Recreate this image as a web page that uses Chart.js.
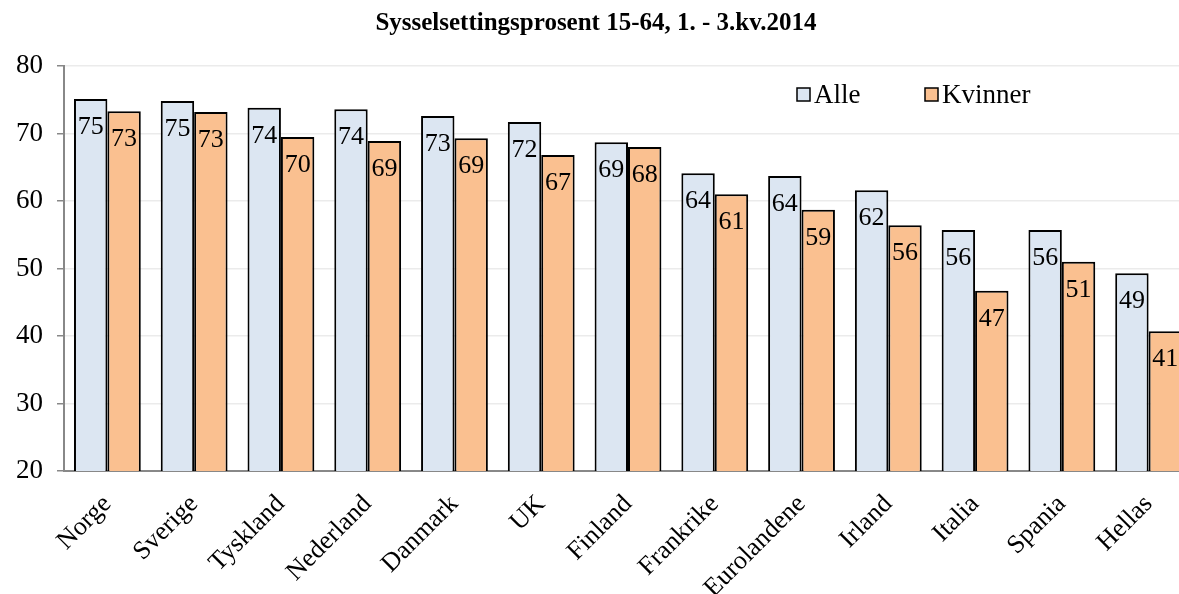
<!DOCTYPE html>
<html lang="no">
<head>
  <meta charset="UTF-8">
  <title>Sysselsettingsprosent 15-64</title>
  <script src="https://cdn.jsdelivr.net/npm/chart.js"></script>
  <style>
    html, body { margin: 0; padding: 0; overflow: hidden; background: #fff; }
    .wrap { width: 1228px; height: 594px; position: relative; }
  </style>
</head>
<body>
  <div class="wrap">
    <canvas id="chart"></canvas>
  </div>

  <script>
    // land
    const countries = ['Norge', 'Sverige', 'Tyskland', 'Nederland', 'Danmark', 'UK', 'Finland',
      'Frankrike', 'Eurolandene', 'Irland', 'Italia', 'Spania', 'Hellas'];
    // sysselsettingsprosent, alle
    const alle = [75.1, 74.8, 73.8, 73.6, 72.6, 71.7, 68.7, 64.1, 63.7, 61.6, 55.7, 55.7, 49.3];
    // sysselsettingsprosent, kvinner
    const kvinner = [73.3, 73.2, 69.5, 68.9, 69.3, 66.8, 68.0, 61.0, 58.7, 56.4, 46.7, 51.0, 40.7];
    const yTicks = [20, 30, 40, 50, 60, 70, 80];

    const serif = "'Liberation Serif', 'Times New Roman', serif";

    // tall inni toppen av søylene
    const valueLabels = {
      id: 'valueLabels',
      afterDatasetsDraw(chart) {
        const ctx = chart.ctx;
        ctx.save();
        ctx.font = '26px ' + serif;
        ctx.fillStyle = '#000';
        ctx.textAlign = 'center';
        ctx.textBaseline = 'middle';
        chart.data.datasets.forEach((ds, i) => {
          chart.getDatasetMeta(i).data.forEach((bar, j) => {
            ctx.fillText(Math.round(ds.data[j]), bar.x, bar.y + 28);
          });
        });
        ctx.restore();
      }
    };

    // forklaring inne i plottet
    const innerLegend = {
      id: 'innerLegend',
      afterDraw(chart, args, opts) {
        const ctx = chart.ctx;
        ctx.save();
        ctx.font = '27px ' + serif;
        ctx.textBaseline = 'middle';
        chart.data.datasets.forEach((ds, i) => {
          const x = opts.x[i], y = opts.y;
          ctx.fillStyle = ds.backgroundColor;
          ctx.fillRect(x, y - 7, 13, 13);
          ctx.strokeStyle = '#000';
          ctx.lineWidth = 1.5;
          ctx.strokeRect(x, y - 7, 13, 13);
          ctx.fillStyle = '#000';
          ctx.fillText(ds.label, x + 17, y + 1);
        });
        ctx.restore();
      }
    };

    new Chart(document.getElementById('chart'), {
      type: 'bar',
      data: {
        labels: countries,
        datasets: [
          { label: 'Alle', data: alle, backgroundColor: '#dce6f2', borderColor: '#000', borderWidth: 2 },
          { label: 'Kvinner', data: kvinner, backgroundColor: '#fac090', borderColor: '#000', borderWidth: 2 }
        ]
      },
      options: {
        responsive: true,
        maintainAspectRatio: false,
        animation: false,
        layout: { padding: { left: 0, right: 36, top: 0, bottom: 0 } },
        datasets: { bar: { categoryPercentage: 0.77, barPercentage: 1.0 } },
        scales: {
          x: {
            grid: { display: false },
            border: { color: '#888', width: 2 },
            ticks: {
              color: '#000',
              font: { family: serif, size: 26 },
              maxRotation: 45,
              minRotation: 45,
              autoSkip: false,
              padding: 10
            },
            afterFit(s) { s.height = 123; s.paddingLeft = 0; s.paddingRight = 0; }
          },
          y: {
            min: 20,
            max: 80,
            afterBuildTicks(s) { s.ticks = yTicks.map(v => ({ value: v })); },
            grid: { color: '#ebebeb', tickColor: '#888', tickLength: 7, lineWidth: 1.5 },
            border: { color: '#888', width: 2 },
            ticks: { color: '#000', font: { family: serif, size: 27 }, padding: 14 },
            afterFit(s) { s.width = 64; s.paddingTop = 0; s.paddingBottom = 0; }
          }
        },
        plugins: {
          legend: { display: false },
          tooltip: { enabled: false },
          title: {
            display: true,
            text: 'Sysselsettingsprosent 15-64, 1. - 3.kv.2014',
            color: '#000',
            font: { family: serif, size: 25, weight: 'bold', lineHeight: 1.2 },
            padding: { top: 9, bottom: 27 }
          },
          innerLegend: { x: [797, 925], y: 95 }
        }
      },
      plugins: [valueLabels, innerLegend]
    });
  </script>
</body>
</html>
